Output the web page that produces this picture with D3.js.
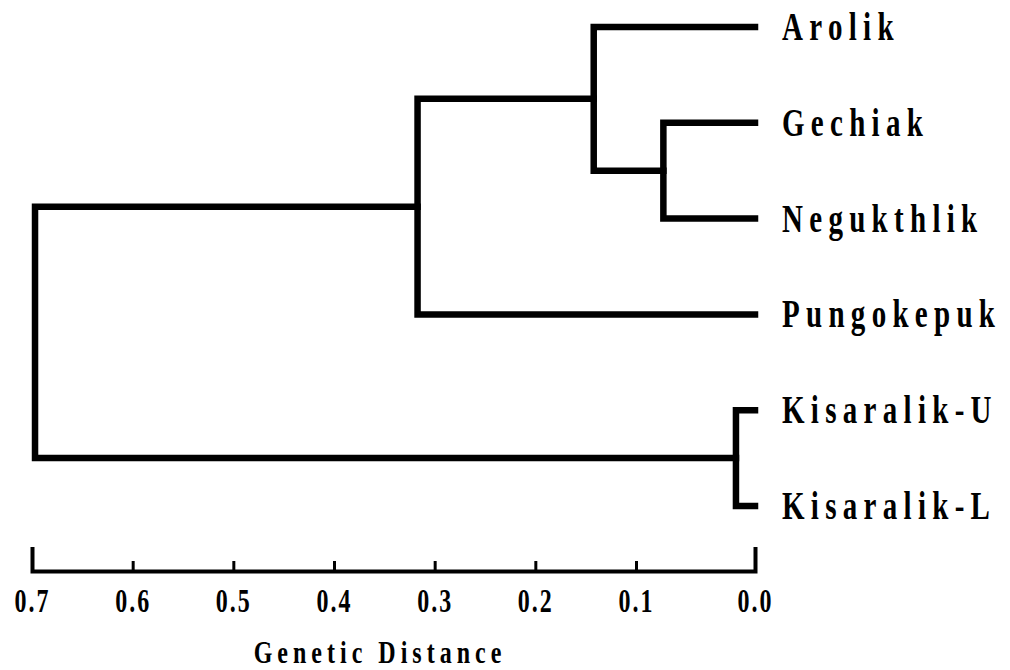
<!DOCTYPE html>
<html>
<head>
<meta charset="utf-8">
<script src="https://cdn.jsdelivr.net/npm/d3@7"></script>
<style>
body { margin: 0; background: #fff; }
</style>
</head>
<body>
<div id="canvas"></div>
<script>
// ----------------------------------------------------------
// DATA -----------------------------------------------------
// ----------------------------------------------------------
var leaf_names = ["Arolik", "Gechiak", "Negukthlik", "Pungokepuk", "Kisaralik-U", "Kisaralik-L"];

// merges, in the order they are joined
var merge_ids = ["m1", "m2", "m3", "m4", "root"];
var merge_children = [
["Gechiak", "Negukthlik"],
["Arolik", "m1"],
["m2", "Pungokepuk"],
["Kisaralik-U", "Kisaralik-L"],
["m3", "m4"]
];
var merge_heights = [0.077, 0.142, 0.317, 0.016, 0.697];

var tick_values = [0.7, 0.6, 0.5, 0.4, 0.3, 0.2, 0.1, 0.0];
var axis_title = "Genetic Distance";

var data_set =
{
container_width: 1010,
container_height: 670,
color_svg: "#fff",
color_line: "#000",
color_text: "#000",
font: "'Liberation Serif', 'Times New Roman', serif"
};


// ----------------------------------------------------------
// STRUCTURE ------------------------------------------------
// ----------------------------------------------------------
var container = d3.select("#canvas").append("svg")
.attr("width", data_set.container_width)
.attr("height", data_set.container_height)
.style("background-color", data_set.color_svg);

var tree_group = container.append("g").attr("class", "tree_group");
var label_group = container.append("g").attr("class", "label_group");
var axis_group = container.append("g").attr("class", "axis_group")
.attr("transform", "translate(0, 571)");


// ----------------------------------------------------------
// SCALES ---------------------------------------------------
// ----------------------------------------------------------
// the printed axis is not quite even: the last step (0.1 - 0.0) is wider
var xScale = d3.scaleLinear()
.domain([0.7, 0.1, 0.0])
.range([32, 636, 755]);

var yScale = d3.scalePoint()
.domain(leaf_names)
.range([27, 506]);


// ----------------------------------------------------------
// TREE -----------------------------------------------------
// ----------------------------------------------------------
var nodes = {};
leaf_names.forEach(function (n) {
nodes[n] = { x: xScale(0), y: yScale(n) };
});
merge_ids.forEach(function (id, i) {
var kids = merge_children[i];
nodes[id] = {
x: xScale(merge_heights[i]),
y: d3.mean(kids, (k) => nodes[k].y),
kids: kids
};
});

tree_group.selectAll("path")
.data(merge_ids)
.enter()
.append("path")
.attr("d", function (id) {
var n = nodes[id];
var a = nodes[n.kids[0]];
var b = nodes[n.kids[1]];
return "M" + a.x + "," + a.y + "H" + n.x + "V" + b.y + "H" + b.x;
})
.style("fill", "none")
.style("stroke", data_set.color_line)
.style("stroke-width", 6.5)
.style("stroke-linejoin", "miter")
.style("stroke-linecap", "square");

// leaf labels
label_group.selectAll("text")
.data(leaf_names)
.enter()
.append("text")
.attr("transform", (d) => `translate(${xScale(0) + 27}, ${yScale(d) + 13}) scale(1, 1.35)`)
.style("font-family", data_set.font)
.style("font-weight", "bold")
.style("font-size", "29px")
.style("letter-spacing", "6.3px")
.style("fill", data_set.color_text)
.text((d) => d);


// ----------------------------------------------------------
// AXIS -----------------------------------------------------
// ----------------------------------------------------------
var xAxis = d3.axisBottom(xScale)
.tickValues(tick_values)
.tickFormat(d3.format(".1f"))
.tickSizeInner(-10)
.tickSizeOuter(-24);

axis_group.call(xAxis);

axis_group.select(".domain")
.style("stroke", data_set.color_line)
.style("stroke-width", 4)
.style("fill", "none");

axis_group.selectAll(".tick line")
.style("stroke", data_set.color_line)
.style("stroke-width", 3);

axis_group.selectAll(".tick text")
.attr("y", null)
.attr("dy", null)
.attr("transform", "translate(0, 41) scale(1, 1.36)")
.style("font-family", data_set.font)
.style("font-weight", "bold")
.style("font-size", "24px")
.style("letter-spacing", "2px")
.style("fill", data_set.color_text);

// axis title
container.append("text")
.attr("transform", "translate(380, 663) scale(1, 1.3)")
.attr("text-anchor", "middle")
.style("font-family", data_set.font)
.style("font-weight", "bold")
.style("font-size", "24px")
.style("letter-spacing", "5px")
.style("fill", data_set.color_text)
.text(axis_title);
</script>
</body>
</html>
